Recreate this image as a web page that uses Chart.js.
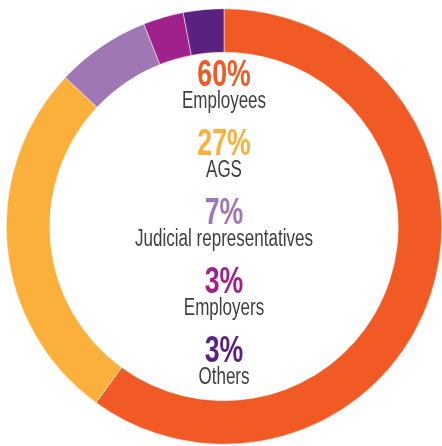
<!DOCTYPE html>
<html>
<head>
<meta charset="utf-8">
<script src="https://cdn.jsdelivr.net/npm/chart.js@4"></script>
<style>
  html, body { margin: 0; padding: 0; background: #fff; }
  #wrap { width: 442px; height: 446px; }
</style>
</head>
<body>
<div id="wrap"><canvas id="chart1" width="442" height="446"></canvas></div>
<script>
const categories = ['Employees', 'AGS', 'Judicial representatives', 'Employers', 'Others'];
const shares = [60, 27, 7, 3, 3];
const colors = ['#f15a24', '#fbb03b', '#9e77b4', '#a0218c', '#5a2180'];

// text stack in the hole of the ring
const centerText = {
    id: 'centerText',
    afterDraw(chart) {
        const ctx = chart.ctx;
        const meta = chart.getDatasetMeta(0);
        const cx = meta.data[0].x;
        let y = 86;
        ctx.save();
        ctx.textAlign = 'center';
        ctx.textBaseline = 'alphabetic';
        categories.forEach((name, i) => {
            ctx.save();
            ctx.translate(cx, 0);
            ctx.scale(0.74, 1);
            ctx.font = 'bold 36px "Liberation Sans", Arial, sans-serif';
            ctx.fillStyle = colors[i];
            ctx.fillText(shares[i] + '%', 0, y);
            ctx.font = '23px "Liberation Sans", Arial, sans-serif';
            ctx.fillStyle = '#404040';
            ctx.fillText(name, 0, y + 22);
            ctx.restore();
            y += 69;
        });
        ctx.restore();
    }
};

new Chart(document.getElementById('chart1'), {
    type: 'doughnut',
    data: {
        labels: categories,
        datasets: [{
            data: shares,
            backgroundColor: colors,
            borderColor: '#ffffff',
            borderWidth: 0.5
        }]
    },
    options: {
        responsive: false,
        animation: false,
        cutout: '80%',
        rotation: 0,
        layout: { padding: { left: 6, top: 7, right: 0, bottom: 0 } },
        plugins: {
            legend: { display: false },
            tooltip: { enabled: false }
        }
    },
    plugins: [centerText]
});
</script>
</body>
</html>
